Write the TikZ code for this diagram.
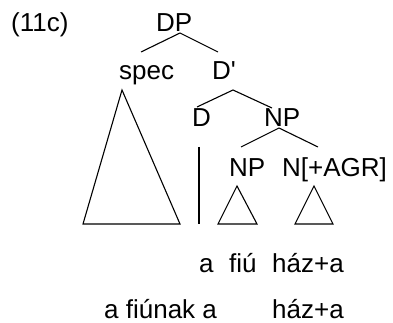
\documentclass[tikz,border=0pt]{standalone}
\usepackage{fontspec}
\setmainfont[Ligatures=TeXOff]{Liberation Sans}
\begin{document}
\begin{tikzpicture}[x=1pt,y=-1pt,
  lbl/.style={inner sep=0pt,anchor=base west,font=\fontsize{26}{30}\selectfont},
  edge/.style={line width=1.1pt,black}]
\useasboundingbox (0,0) rectangle (393,323);
\node[lbl] (ex) at (11,32) {(11c)};
\node[lbl] (dp) at (156,32) {DP};
\node[lbl] (spec) at (119,80) {spec};
\node[lbl] (dbar) at (212,80) {D'};
\node[lbl] (d) at (192,127) {D};
\node[lbl] (np) at (264,127) {NP};
\node[lbl] (np2) at (229,176) {NP};
\node[lbl] (nagr) at (282,176) {N[+AGR]};
\node[lbl] (wa) at (199,272) {a};
\node[lbl] (wfiu) at (229,272) {fiú};
\node[lbl] (whaz) at (272,272) {ház+a};
\node[lbl] (wfiunak) at (104,318) {a fiúnak a};
\node[lbl] (whaz2) at (272,318) {ház+a};
% tree branch points
\coordinate (dpb) at (180,33);
\coordinate (specT) at (141,52);
\coordinate (dbarT) at (218,52);
\coordinate (dbarB) at (233,90);
\coordinate (dT) at (197,107);
\coordinate (npT) at (272,108);
\coordinate (npB) at (279,128);
\coordinate (np2T) at (241,147);
\coordinate (nagrT) at (318,147);
\draw[edge] (specT) -- (dpb) -- (dbarT);
\draw[edge] (dT) -- (dbarB) -- (npT);
\draw[edge] (np2T) -- (npB) -- (nagrT);
% triangles
\coordinate (bigA) at (122,90);
\coordinate (bigL) at (83,224);
\coordinate (bigR) at (180,224);
\draw[edge,line join=miter] (bigA) -- (bigL) -- (bigR) -- cycle;
\coordinate (vT) at (199,147);
\coordinate (vB) at (199,224);
\draw[edge] (vT) -- (vB);
\coordinate (t1A) at (237,186);
\coordinate (t1L) at (218,224);
\coordinate (t1R) at (257,224);
\draw[edge] (t1A) -- (t1L) -- (t1R) -- cycle;
\coordinate (t2A) at (314,186);
\coordinate (t2L) at (295,224);
\coordinate (t2R) at (333,224);
\draw[edge] (t2A) -- (t2L) -- (t2R) -- cycle;
\end{tikzpicture}
\end{document}
